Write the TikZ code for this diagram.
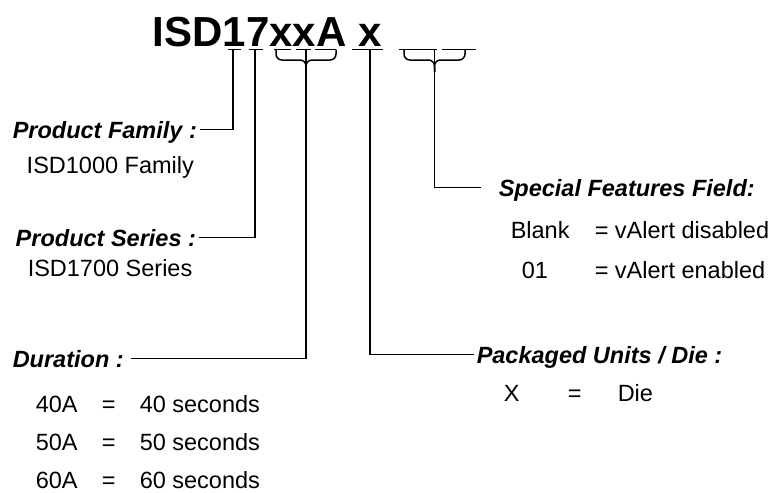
\documentclass[tikz,border=0pt]{standalone}
\usepackage{fontspec}
\setmainfont{Liberation Sans}
\usepackage{tikz}
\usetikzlibrary{positioning,calc,decorations.pathreplacing}
\tikzset{head/.style={font=\fontsize{23.5}{28}\selectfont\bfseries\itshape,inner ysep=0pt,inner xsep=2pt,text height=17pt,text depth=0pt,anchor=base west}}
\tikzset{val/.style={font=\fontsize{23.5}{28}\selectfont,inner sep=0pt,anchor=base west}}

\begin{document}
\begin{tikzpicture}[x=1pt, y=-1pt, line width=1.5pt]
\tikzstyle{brc}=[rounded corners=6pt]
    \useasboundingbox (0,0) rectangle (772,493);
    \node[font=\fontsize{42}{50}\selectfont\bfseries,inner sep=0pt,anchor=base west] (title) at (152,46) {ISD17xxA x};
    % blanks under the part number
    \foreach \a/\b in {228/241, 249/263, 274/291, 296/311, 315/336, 352/383, 399/437, 442/476}
        \draw (\a,49.5) -- (\b,49.5);
    \coordinate (f1) at (233,49.5);
    \coordinate (f2) at (255,49.5);
    \coordinate (f3) at (370,49.5);
    \coordinate (b1) at (306,60);
    \coordinate (b2) at (434.5,60);
    % braces
    \draw[brc] (276,49.5) |- (b1) -- (306,72);
    \draw[brc] (336,49.5) |- (b1) -- (306,72);
    \draw[brc] (404,49.5) |- (b2) -- (434.5,72);
    \draw[brc] (465,49.5) |- (b2) -- (434.5,72);
    % fields
    \node[head] (pf) at (10,138) {Product Family :};
    \node[val] (pfv) at (26,173) {ISD1000 Family};
    \node[head] (ps) at (13,246) {Product Series :};
    \node[val] (psv) at (27,276) {ISD1700 Series};
    \node[head] (dur) at (10,367) {Duration :};
    \foreach \n/\y in {40/412, 50/450, 60/488.5} {
        \node[val] (d\n) at (35,\y) {\n A};
        \node[val] (d\n eq) at (101,\y) {=};
        \node[val] (d\n s) at (139,\y) {\n\ seconds};
    }
    \node[head] (pu) at (474,363) {Packaged Units / Die :};
    \node[val] (pux) at (503,401.5) {X};
    \node[val] (pueq) at (567,401.5) {=};
    \node[val] (pud) at (617,401.5) {Die};
    \node[head] (sf) at (496,196) {Special Features Field:};
    \node[val] (sfb) at (510,238) {Blank};
    \node[val] (sfbv) at (594,238) {= vAlert disabled};
    \node[val] (sfe) at (521,278) {01};
    \node[val] (sfev) at (594,278) {= vAlert enabled};
    % connectors
    \draw (f1) |- (pf.east);
    \draw (f2) |- (ps.east);
    \draw ([yshift=10pt]b1) |- ([xshift=5pt]dur.east);
    \draw (f3) |- (pu.west);
    \draw ([yshift=10pt]b2) |- ([xshift=-15pt]sf.west);
\end{tikzpicture}
\end{document}
